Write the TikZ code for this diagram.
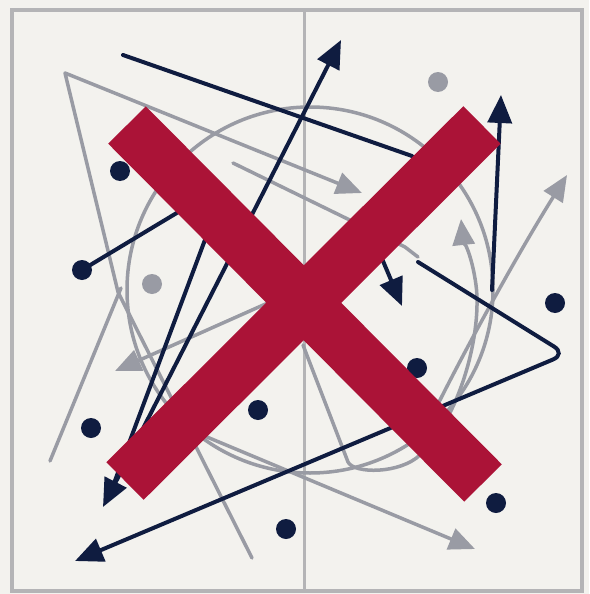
\documentclass[tikz,border=0pt]{standalone}
\usetikzlibrary{arrows.meta}
\definecolor{bg}{RGB}{243,242,238}
\definecolor{navy}{RGB}{15,28,64}
\definecolor{gr}{RGB}{153,155,164}
\definecolor{crim}{RGB}{171,19,55}
\definecolor{framec}{RGB}{180,180,182}
\begin{document}
\begin{tikzpicture}[x=1pt,y=-1pt,
  nv/.style={draw=navy,line width=4pt,line cap=round},
  gy/.style={draw=gr,line width=3.5pt,line cap=round,line join=round},
  ntip/.tip={Triangle[length=28pt,width=24pt]},
  gtip/.tip={Triangle[length=26pt,width=22pt]},
  ndot/.style={fill=navy},
  gdot/.style={fill=gr},
  bar/.style={draw=crim,line width=53pt}]
\fill[bg] (0,0) rectangle (589,594);
\useasboundingbox (0,0) rectangle (589,594);
% frame and divider
\draw[framec,line width=4pt] (12,10) rectangle (582,591);
\draw[framec,line width=3pt] (304,10) -- (304,591);
% named points
\coordinate (apex) at (65,73);
\coordinate (tl) at (118,292);
\coordinate (tb) at (252,558);
% gray shapes
\draw[gy] (310,290) circle[radius=183];
\draw[gy,{gtip}-] (362,193) -- (apex) -- (tl) -- (tb);
\draw[gy] (50,461) -- (121,288);
\draw[gy] (233,163) -- (405,247) -- (418,257);
\draw[gy,-{gtip}] (288,294) -- (115,371);
\draw[gy,-{gtip}] (195,432) -- (475,549);
\draw[gy,-{gtip}] (435,410) .. controls (470,340) and (520,250) .. (567,175);
\draw[gy,-{gtip}] (303,345) -- (348,462) .. controls (354,474) and (400,474) .. (420,455)
  .. controls (462,415) and (482,330) .. (476,285) .. controls (472,255) and (463,238) .. (461,219);
\fill[gdot] (152,284) circle[radius=10];
\fill[gdot] (438,82) circle[radius=10];
% navy shapes
\draw[nv] (123,55) -- (412,156);
\draw[nv,{ntip}-{ntip}] (103,507) -- (341,40);
\draw[nv] (218,205) -- (110,494);
\coordinate (d1) at (82,270);
\draw[nv] (d1) -- (185,208);
\fill[ndot] (d1) circle[radius=10];
\draw[nv,-{ntip}] (372,235) -- (402,306);
\draw[nv,-{ntip}] (492,290) -- (501,95);
\draw[nv,rounded corners=14pt,-{ntip}] (418,262) -- (566,354) -- (75,561);
\foreach \p in {(120,171),(555,303),(417,368),(258,410),(91,428),(286,529),(496,503)}
  \fill[ndot] \p circle[radius=10];
% red cross
\draw[bar] (127,125) -- (483,483);
\draw[bar] (482,125) -- (125,481);
\end{tikzpicture}
\end{document}
